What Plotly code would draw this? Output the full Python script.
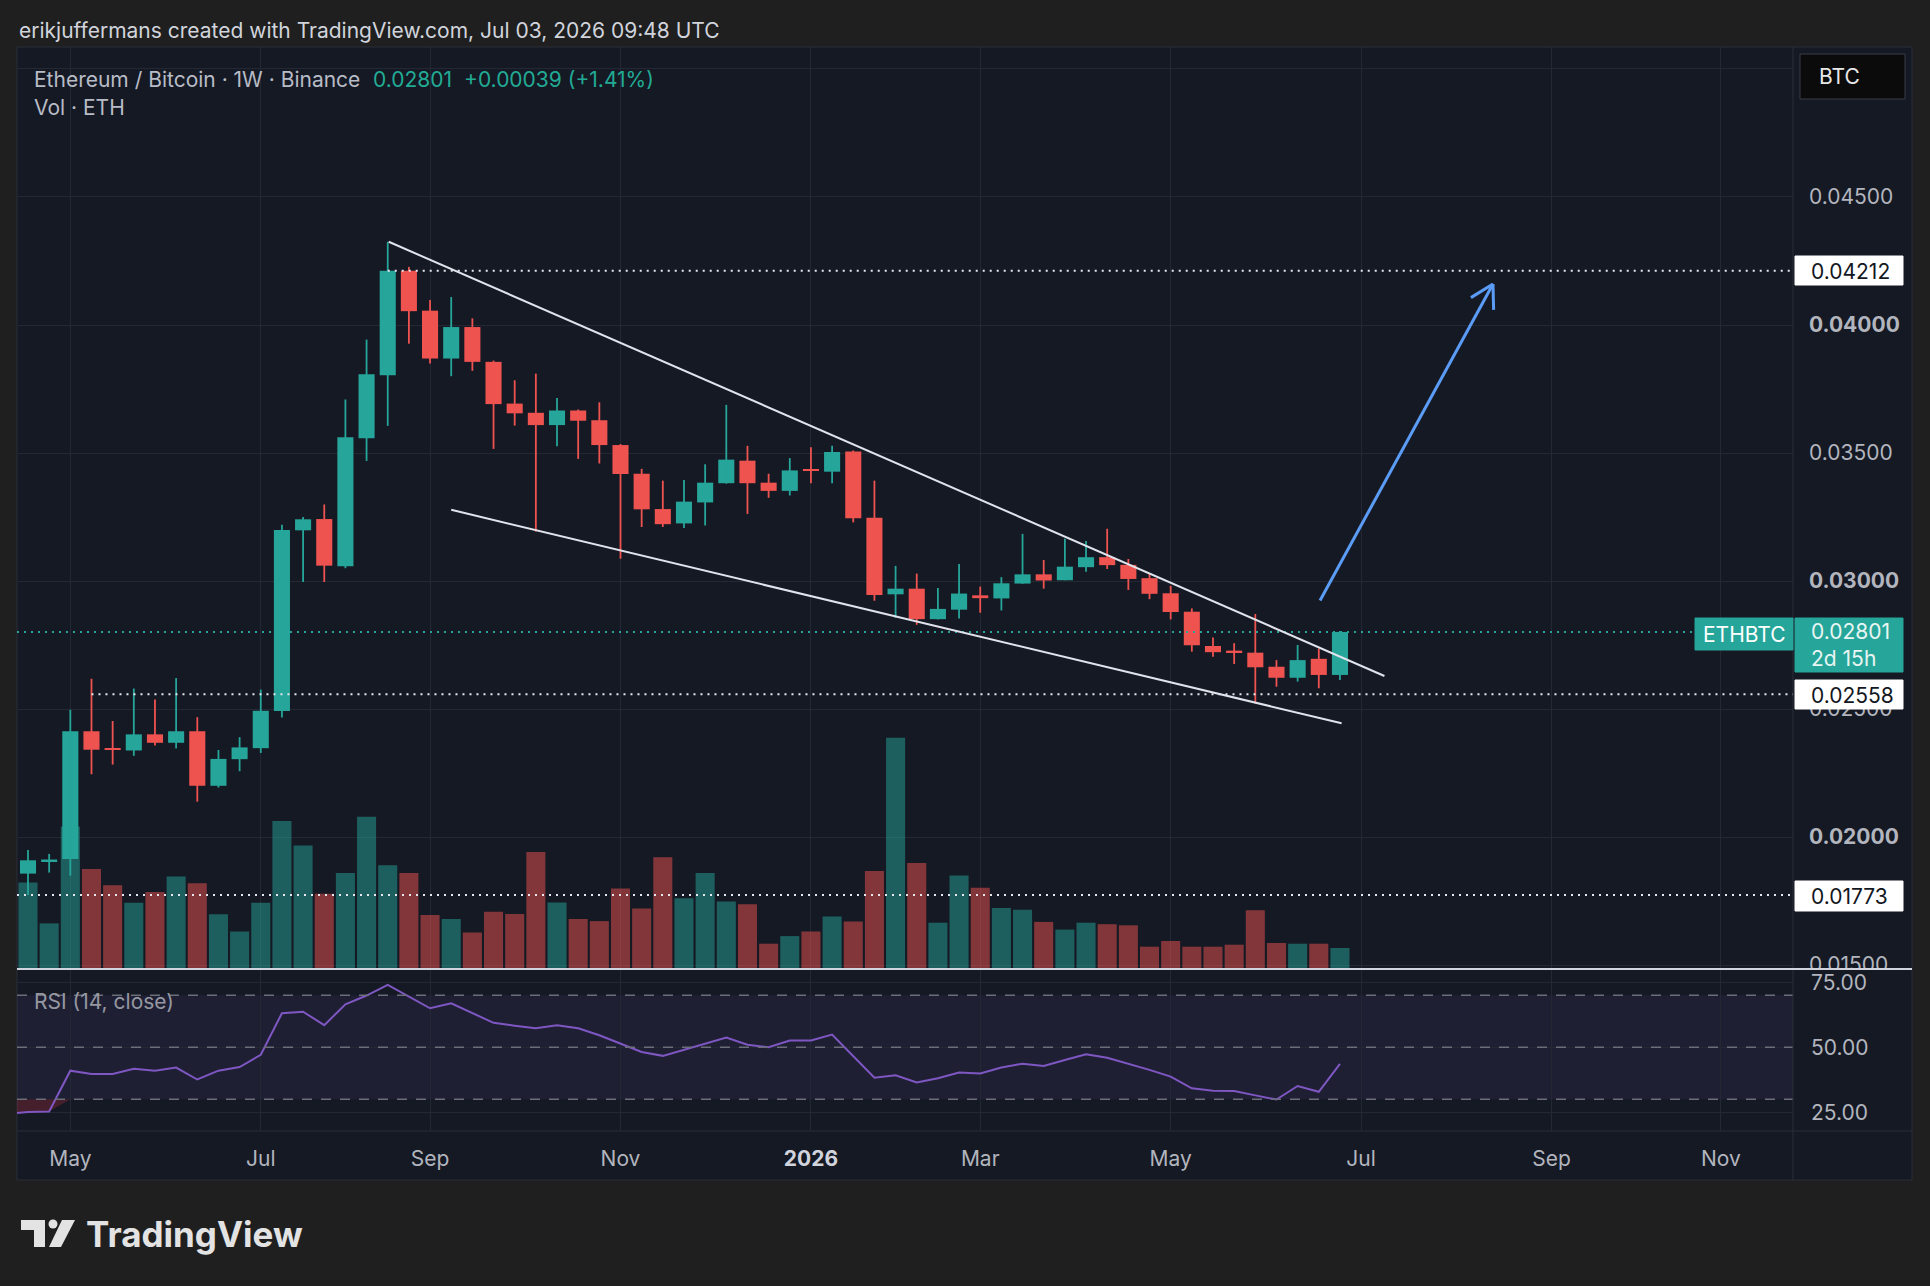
import plotly.graph_objects as go
import pandas as pd

# ---------------- data ----------------
weeks = pd.date_range("2025-04-21", periods=63, freq="7D")
week_str = [d.strftime("%Y-%m-%d") for d in weeks]

opens = [0.01857, 0.01906, 0.01914, 0.02413, 0.02347, 0.02338, 0.02401, 0.02368, 0.02413, 0.02200,
         0.02304, 0.02347, 0.02492, 0.03198, 0.03242, 0.03058, 0.03558, 0.03804, 0.04212, 0.04056,
         0.03869, 0.03992, 0.03856, 0.03693, 0.03657, 0.03609, 0.03666, 0.03628, 0.03531, 0.03419,
         0.03281, 0.03225, 0.03307, 0.03382, 0.03470, 0.03384, 0.03352, 0.03437, 0.03427, 0.03506,
         0.03247, 0.02948, 0.02970, 0.02851, 0.02888, 0.02944, 0.02932, 0.02990, 0.03026, 0.03003,
         0.03054, 0.03093, 0.03063, 0.03011, 0.02952, 0.02880, 0.02746, 0.02727, 0.02720, 0.02665,
         0.02622, 0.02696, 0.02633]
highs = [0.01949, 0.01934, 0.02497, 0.02618, 0.02453, 0.02580, 0.02537, 0.02621, 0.02468, 0.02340,
         0.02390, 0.02576, 0.03220, 0.03250, 0.03299, 0.03709, 0.03943, 0.04325, 0.04227, 0.04098,
         0.04109, 0.04026, 0.03861, 0.03784, 0.03810, 0.03715, 0.03670, 0.03698, 0.03535, 0.03438,
         0.03392, 0.03395, 0.03456, 0.03688, 0.03528, 0.03419, 0.03480, 0.03522, 0.03528, 0.03510,
         0.03392, 0.03059, 0.03029, 0.02973, 0.03066, 0.02978, 0.03015, 0.03184, 0.03082, 0.03165,
         0.03156, 0.03204, 0.03086, 0.03027, 0.02981, 0.02893, 0.02779, 0.02757, 0.02871, 0.02691,
         0.02750, 0.02736, 0.02805]
lows = [0.01773, 0.01861, 0.01849, 0.02245, 0.02283, 0.02317, 0.02357, 0.02346, 0.02138, 0.02193,
        0.02257, 0.02328, 0.02467, 0.02996, 0.02996, 0.03050, 0.03469, 0.03606, 0.03927, 0.03850,
        0.03800, 0.03821, 0.03516, 0.03607, 0.03193, 0.03526, 0.03477, 0.03459, 0.03087, 0.03211,
        0.03211, 0.03207, 0.03217, 0.03380, 0.03262, 0.03325, 0.03334, 0.03382, 0.03382, 0.03229,
        0.02923, 0.02856, 0.02829, 0.02850, 0.02854, 0.02876, 0.02885, 0.02989, 0.02970, 0.03003,
        0.03036, 0.03047, 0.02965, 0.02929, 0.02850, 0.02724, 0.02704, 0.02676, 0.02522, 0.02587,
        0.02607, 0.02581, 0.02613]
closes = [0.01909, 0.01912, 0.02413, 0.02341, 0.02341, 0.02401, 0.02368, 0.02413, 0.02200, 0.02305,
          0.02350, 0.02493, 0.03199, 0.03241, 0.03060, 0.03562, 0.03808, 0.04212, 0.04054, 0.03869,
          0.03992, 0.03856, 0.03691, 0.03655, 0.03609, 0.03666, 0.03626, 0.03531, 0.03418, 0.03280,
          0.03222, 0.03310, 0.03384, 0.03474, 0.03382, 0.03352, 0.03432, 0.03431, 0.03504, 0.03245,
          0.02945, 0.02970, 0.02851, 0.02891, 0.02951, 0.02933, 0.02991, 0.03026, 0.03002, 0.03056,
          0.03093, 0.03062, 0.03008, 0.02950, 0.02879, 0.02749, 0.02722, 0.02722, 0.02663, 0.02622,
          0.02691, 0.02633, 0.02801]
volume_k = [865, 456, 1424, 999, 838, 662, 769, 926, 858, 548, 375, 662, 1481, 1236, 752, 961,
            1523, 1038, 961, 539, 500, 365, 573, 549, 1169, 665, 500, 479, 804, 605, 1118, 708,
            961, 674, 647, 253, 329, 375, 525, 475, 980, 2312, 1060, 463, 934, 812, 609, 593,
            471, 394, 463, 448, 437, 223, 280, 223, 223, 243, 587, 260, 253, 253, 210]
# RSI starts one week earlier (its first point sits just off the left edge)
rsi_weeks = pd.date_range("2025-04-14", periods=64, freq="7D")
rsi_week_str = [d.strftime("%Y-%m-%d") for d in rsi_weeks]
rsi = [24.4, 25.1, 25.3, 41.0, 39.7, 39.7, 41.7, 41.0, 42.2, 37.6, 41.0, 42.4, 47.1, 63.1, 63.7, 58.5,
       66.5, 69.9, 74.0, 69.5, 65.0, 66.9, 63.3, 59.4, 58.3, 57.3, 58.5, 57.3, 54.6, 51.5, 48.2,
       46.7, 49.0, 51.2, 53.7, 51.0, 50.0, 52.6, 52.6, 54.9, 46.4, 38.3, 39.2, 36.5, 38.1, 40.3,
       39.9, 42.2, 43.7, 42.8, 45.1, 47.3, 46.0, 43.7, 41.3, 38.7, 34.2, 33.3, 33.2, 31.5, 29.9,
       35.1, 32.9, 43.6]

month_tick_dates = ["2025-05-05", "2025-07-07", "2025-09-01", "2025-11-03", "2026-01-05",
                    "2026-03-02", "2026-05-04", "2026-07-06", "2026-09-07", "2026-11-02"]
month_tick_labels = ["May", "Jul", "Sep", "Nov", "<b><span style='color:#d1d4dc'>2026</span></b>",
                     "Mar", "May", "Jul", "Sep", "Nov"]
price_ticks = [0.015, 0.020, 0.025, 0.030, 0.035, 0.040, 0.045, 0.050]
price_tick_labels = ["0.01500", "<b>0.02000</b>", "0.02500", "<b>0.03000</b>", "0.03500",
                     "<b>0.04000</b>", "0.04500", ""]
rsi_ticks = [25, 50, 75]
rsi_tick_labels = ["25.00", "50.00", "75.00"]

# drawings (date, price)
upper_trend = [("2025-08-18 08:00", 0.04325), ("2026-07-13 17:00", 0.02629)]
lower_trend = [("2025-09-08", 0.03278), ("2026-06-29 13:00", 0.02444)]
arrow_shaft = [("2026-06-22 10:00", 0.02924), ("2026-08-18 15:00", 0.04160)]
arrow_arm1 = [("2026-08-11 08:00", 0.04107), ("2026-08-18 15:00", 0.04160)]
arrow_arm2 = [("2026-08-18 20:00", 0.04059), ("2026-08-18 15:00", 0.04160)]
level_high = ("2025-08-18", 0.04212)
level_mid = ("2025-05-12", 0.02558)
level_low = 0.01773
last_price = 0.02801

# ---------------- colours ----------------
UP = "#26a69a"
DN = "#ef5350"
UP_VOL = "rgba(38,166,154,0.5)"
DN_VOL = "rgba(239,83,80,0.5)"
BG = "#151924"
OUTER = "#1f1f1f"
GRID = "#232834"
TXT = "#b2b5be"
FONT = "Inter"
FS = 21

# ---------------- geometry helpers (pixels -> paper) ----------------
L, R, T, B = 17, 1793, 47, 1131
W, H = R - L, B - T
def px(x):
    return (x - L) / W
def py(y):
    return (B - y) / H
split = py(969)

inc = [c >= o for o, c in zip(opens, closes)]
WEEK_MS = 7 * 86400000

fig = go.Figure()

# volume (base axis y)
for flag, col in ((True, UP_VOL), (False, DN_VOL)):
    idx = [i for i in range(len(week_str)) if inc[i] == flag]
    fig.add_trace(go.Bar(x=[week_str[i] for i in idx], y=[volume_k[i] for i in idx],
                         width=0.9 * WEEK_MS, marker=dict(color=col, line=dict(width=0)),
                         xaxis="x", yaxis="y", hoverinfo="skip"))

# candles on y2
for flag, col in ((True, UP), (False, DN)):
    idx = [i for i in range(len(week_str)) if inc[i] == flag]
    wx, wy = [], []
    for i in idx:
        wx += [week_str[i], week_str[i], None]
        wy += [lows[i], highs[i], None]
    fig.add_trace(go.Scatter(x=wx, y=wy, mode="lines", line=dict(color=col, width=1.8),
                             xaxis="x", yaxis="y2", hoverinfo="skip"))
    fig.add_trace(go.Bar(x=[week_str[i] for i in idx],
                         base=[min(opens[i], closes[i]) for i in idx],
                         y=[max(abs(closes[i] - opens[i]), 0.00006) for i in idx],
                         width=0.76 * WEEK_MS, marker=dict(color=col, line=dict(width=0)),
                         xaxis="x", yaxis="y2", hoverinfo="skip"))

# RSI oversold fill (below 30)
n_os = 4
fig.add_trace(go.Scatter(x=rsi_week_str[:n_os], y=[30] * n_os, mode="lines", line=dict(width=0),
                         xaxis="x", yaxis="y3", hoverinfo="skip"))
fig.add_trace(go.Scatter(x=rsi_week_str[:n_os], y=[min(v, 30) for v in rsi[:n_os]], mode="lines",
                         line=dict(width=0), fill="tonexty", fillcolor="rgba(242,54,69,0.22)",
                         xaxis="x", yaxis="y3", hoverinfo="skip"))
# RSI line
fig.add_trace(go.Scatter(x=rsi_week_str, y=rsi, mode="lines", line=dict(color="#7e57c2", width=2),
                         xaxis="x", yaxis="y3", hoverinfo="skip"))

x0 = weeks[0] - pd.Timedelta(days=7 * 0.52)
x1 = weeks[0] + pd.Timedelta(days=7 * 83.41)

shapes = []
# outer chart panel
shapes.append(dict(type="rect", xref="paper", yref="paper", x0=px(17), x1=px(1912), y0=py(47), y1=py(1180),
                   fillcolor=BG, line=dict(color="#2a2e39", width=1), layer="below"))
# RSI band
shapes.append(dict(type="rect", xref="paper", yref="y3", x0=0, x1=1, y0=30, y1=70,
                   fillcolor="rgba(126,87,194,0.10)", line=dict(width=0), layer="below"))
for lv in (30, 50, 70):
    shapes.append(dict(type="line", xref="paper", yref="y3", x0=0, x1=1, y0=lv, y1=lv,
                       line=dict(color="#6b6e79", width=1.5, dash="10px,9px")))
# dotted levels
shapes.append(dict(type="line", xref="x", yref="y2", x0=level_high[0], x1=x1, y0=level_high[1], y1=level_high[1],
                   line=dict(color="#e6e8ee", width=2, dash="2px,5px")))
shapes.append(dict(type="line", xref="x", yref="y2", x0=level_mid[0], x1=x1, y0=level_mid[1], y1=level_mid[1],
                   line=dict(color="#e6e8ee", width=2, dash="2px,5px")))
shapes.append(dict(type="line", xref="paper", yref="y2", x0=0, x1=1, y0=level_low, y1=level_low,
                   line=dict(color="#e6e8ee", width=2, dash="2px,5px")))
shapes.append(dict(type="line", xref="paper", yref="y2", x0=0, x1=1, y0=last_price, y1=last_price,
                   line=dict(color=UP, width=2, dash="2px,5px")))
# trend lines
for seg in (upper_trend, lower_trend):
    shapes.append(dict(type="line", xref="x", yref="y2", x0=seg[0][0], y0=seg[0][1], x1=seg[1][0], y1=seg[1][1],
                       line=dict(color="#e0e3eb", width=2)))
for seg in (arrow_shaft, arrow_arm1, arrow_arm2):
    shapes.append(dict(type="line", xref="x", yref="y2", x0=seg[0][0], y0=seg[0][1], x1=seg[1][0], y1=seg[1][1],
                       line=dict(color="#5b9cf6", width=3)))
# separators
shapes.append(dict(type="line", xref="paper", yref="paper", x0=px(1793), x1=px(1793), y0=py(47), y1=py(1180),
                   line=dict(color="#2a2e39", width=1)))
shapes.append(dict(type="line", xref="paper", yref="paper", x0=px(17), x1=px(1912), y0=py(1131), y1=py(1131),
                   line=dict(color="#2a2e39", width=1)))
# cover below pane split in axis column (price labels get clipped by the RSI pane)
shapes.append(dict(type="rect", xref="paper", yref="paper", x0=px(1794), x1=px(1911), y0=py(969), y1=py(1130),
                   fillcolor=BG, line=dict(width=0)))
shapes.append(dict(type="line", xref="paper", yref="paper", x0=px(17), x1=px(1912), y0=split, y1=split,
                   line=dict(color="#d1d4dc", width=2)))
# price label boxes
def box(xa, xb, ya, yb, fill, line=None):
    shapes.append(dict(type="rect", xref="paper", yref="paper", x0=px(xa), x1=px(xb), y0=py(ya), y1=py(yb),
                       fillcolor=fill, line=dict(color=line or fill, width=1)))
box(1800, 1905, 54, 99, "#0b0b0c", "#3a3d46")
box(1795, 1903, 256, 285, "#ffffff")
box(1695, 1793, 618, 650, UP)
box(1795, 1903, 618, 672, UP)
box(1795, 1903, 680, 709, "#ffffff")
box(1795, 1903, 881, 911, "#ffffff")

# TradingView logo
LOGO = "#e3e3e3"
def path(pts):
    return "M " + " L ".join(f"{px(a):.5f},{py(b):.5f}" for a, b in pts) + " Z"
shapes.append(dict(type="path", xref="paper", yref="paper",
                   path=path([(21, 1220), (45, 1220), (45, 1247), (34, 1247), (34, 1230), (21, 1230)]),
                   fillcolor=LOGO, line=dict(width=0)))
shapes.append(dict(type="path", xref="paper", yref="paper",
                   path=path([(62, 1220), (75, 1220), (61, 1247), (49, 1247)]),
                   fillcolor=LOGO, line=dict(width=0)))
shapes.append(dict(type="circle", xref="paper", yref="paper", x0=px(48.5), x1=px(57.5), y0=py(1219.5), y1=py(1228.5),
                   fillcolor=LOGO, line=dict(width=0)))

ann = []
def text(t, x, y, size=FS, color=TXT, xanchor="left", yanchor="middle", yref="paper", align="left"):
    ann.append(dict(text=t, x=px(x), y=(py(y) if yref == "paper" else y), xref="paper", yref=yref,
                    xanchor=xanchor, yanchor=yanchor, showarrow=False, align=align,
                    font=dict(family=FONT, size=size, color=color)))

text("erikjuffermans created with TradingView.com, Jul 03, 2026 09:48 UTC", 17, 31, FS, "#d1d4dc")
text("Ethereum / Bitcoin · 1W · Binance", 32, 79, FS, "#b8bcc6")
text("0.02801", 371, 79, FS, "#22ab94")
text("+0.00039 (+1.41%)", 462, 79, FS, "#22ab94")
text("Vol · ETH", 32, 108, FS, "#b8bcc6")
text("RSI (14, close)", 32, 1001, FS, "#9598a1")
text("BTC", 1817, 77, FS, "#e8e8e8")
text("0.04212", 1809, 271, FS, "#131722")
text("ETHBTC", 1744, 634, FS, "#ffffff", xanchor="center")
text("0.02801<br>2d 15h", 1809, 645, FS, "#e8f5f3")
text("0.02558", 1809, 695, FS, "#131722")
text("0.01773", 1809, 896, FS, "#131722")
for v, lab in zip(rsi_ticks, rsi_tick_labels):
    text(lab, 1809, v, FS, TXT, yref="y3")
text("<b>TradingView</b>", 84, 1234, 35, LOGO)

fig.update_layout(
    width=1930, height=1286,
    margin=dict(l=L, r=1930 - R, t=T, b=1286 - B),
    paper_bgcolor=OUTER, plot_bgcolor=BG,
    showlegend=False, barmode="overlay", hovermode=False,
    font=dict(family=FONT, size=FS, color=TXT),
    xaxis=dict(type="date", range=[x0, x1], anchor="y3", tickmode="array",
               tickvals=month_tick_dates, ticktext=month_tick_labels,
               showgrid=True, gridcolor=GRID, gridwidth=1, ticks="", showline=False,
               zeroline=False, ticklabelstandoff=13, tickfont=dict(size=FS, color=TXT)),
    yaxis=dict(domain=[split, 1], range=[0, 9220], visible=False, showgrid=False, zeroline=False),
    yaxis2=dict(overlaying="y", side="right", anchor="x", range=[0.014844, 0.050859],
                tickmode="array", tickvals=price_ticks, ticktext=price_tick_labels,
                showgrid=True, gridcolor=GRID, ticks="", zeroline=False, showline=False,
                ticklabelstandoff=15, tickfont=dict(size=FS, color=TXT)),
    yaxis3=dict(domain=[0, split], range=[17.8, 80.1], side="right", anchor="x",
                tickmode="array", tickvals=rsi_ticks, showticklabels=False,
                showgrid=True, gridcolor=GRID, ticks="", zeroline=False, showline=False),
    shapes=shapes, annotations=ann,
)

fig.write_html("out.html")
